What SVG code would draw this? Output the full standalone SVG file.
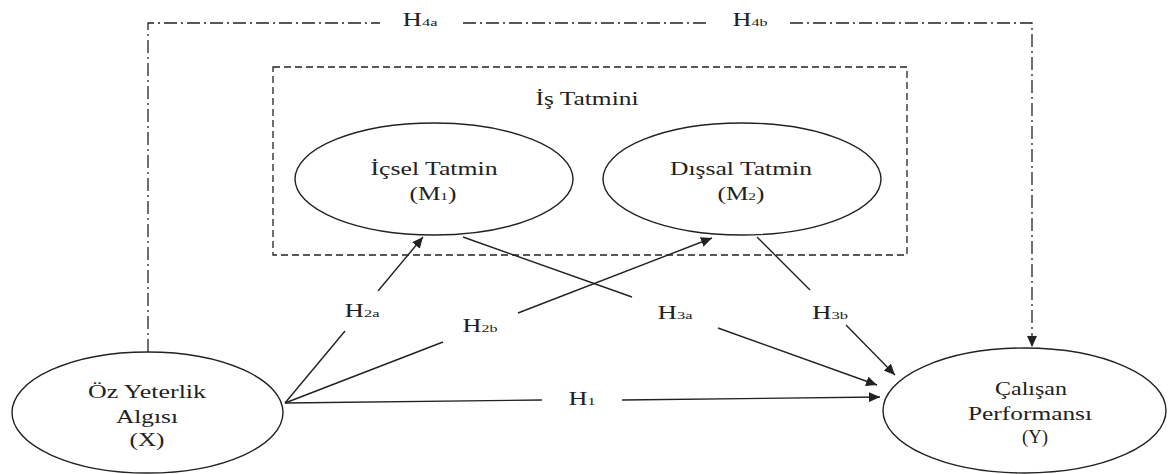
<svg xmlns="http://www.w3.org/2000/svg" width="1170" height="474" viewBox="0 0 1170 474">
<style>
.n{fill:#fff;stroke:#222;stroke-width:1.4}
.t{font-family:"Liberation Serif","Times New Roman",serif;font-size:18px;fill:#222;text-anchor:middle}
.s{font-size:11px}
.c{fill:none;stroke:#222;stroke-width:1.4}
.dd{fill:none;stroke:#222;stroke-width:1.3;stroke-dasharray:13 4 2 4}
.box{fill:none;stroke:#222;stroke-width:1.3;stroke-dasharray:7 4}
</style>
<defs>
<marker id="ah" markerUnits="userSpaceOnUse" markerWidth="12" markerHeight="10" refX="11" refY="5" orient="auto">
<path d="M0,0 L11,5 L0,10 z" fill="#222"/>
</marker>
</defs>
<rect width="1170" height="474" fill="#fff"/>
<g id="group-is-tatmini">
<rect class="box" x="273" y="67" width="634" height="188"/>
<text class="t" x="587" y="105" textLength="103" lengthAdjust="spacingAndGlyphs">İş Tatmini</text>
</g>
<g id="connectors">
<polyline class="dd" points="148,352 148,23 380,23"/>
<line class="dd" x1="463" y1="23" x2="707" y2="23"/>
<polyline class="dd" points="790,23 1032,23 1032,347" marker-end="url(#ah)"/>
<text class="t" x="420" y="26" textLength="35" lengthAdjust="spacingAndGlyphs">H<tspan class="s">4a</tspan></text>
<text class="t" x="750" y="26" textLength="35" lengthAdjust="spacingAndGlyphs">H<tspan class="s">4b</tspan></text>
<line class="c" x1="285" y1="403" x2="345" y2="331"/>
<line class="c" x1="378" y1="291" x2="423" y2="237" marker-end="url(#ah)"/>
<text class="t" x="362" y="317" textLength="35" lengthAdjust="spacingAndGlyphs">H<tspan class="s">2a</tspan></text>
<line class="c" x1="285" y1="403" x2="443" y2="342"/>
<line class="c" x1="518" y1="313" x2="712" y2="238" marker-end="url(#ah)"/>
<text class="t" x="480" y="332" textLength="35" lengthAdjust="spacingAndGlyphs">H<tspan class="s">2b</tspan></text>
<line class="c" x1="463" y1="237" x2="632" y2="297"/>
<line class="c" x1="718" y1="328" x2="877" y2="385" marker-end="url(#ah)"/>
<text class="t" x="675" y="319" textLength="35" lengthAdjust="spacingAndGlyphs">H<tspan class="s">3a</tspan></text>
<line class="c" x1="757" y1="237" x2="810" y2="290"/>
<line class="c" x1="846" y1="325" x2="895" y2="375" marker-end="url(#ah)"/>
<text class="t" x="830" y="319" textLength="36" lengthAdjust="spacingAndGlyphs">H<tspan class="s">3b</tspan></text>
<line class="c" x1="285" y1="403" x2="542" y2="400"/>
<line class="c" x1="622" y1="400" x2="880" y2="397" marker-end="url(#ah)"/>
<text class="t" x="582" y="405" textLength="27" lengthAdjust="spacingAndGlyphs">H<tspan class="s">1</tspan></text>
</g>
<g id="node-x">
<ellipse class="n" cx="147.5" cy="412.5" rx="135.5" ry="60.5"/>
<text class="t" x="147" y="398" textLength="118" lengthAdjust="spacingAndGlyphs">Öz Yeterlik</text>
<text class="t" x="147" y="423" textLength="62" lengthAdjust="spacingAndGlyphs">Algısı</text>
<text class="t" x="147" y="446" textLength="35" lengthAdjust="spacingAndGlyphs">(X)</text>
</g>
<g id="node-m1">
<ellipse class="n" cx="434" cy="179" rx="139" ry="56"/>
<text class="t" x="434" y="175" textLength="127" lengthAdjust="spacingAndGlyphs">İçsel Tatmin</text>
<text class="t" x="433" y="200" textLength="47" lengthAdjust="spacingAndGlyphs">(M<tspan class="s">1</tspan>)</text>
</g>
<g id="node-m2">
<ellipse class="n" cx="742" cy="179" rx="139" ry="56"/>
<text class="t" x="741" y="175" textLength="142" lengthAdjust="spacingAndGlyphs">Dışsal Tatmin</text>
<text class="t" x="741" y="200" textLength="47" lengthAdjust="spacingAndGlyphs">(M<tspan class="s">2</tspan>)</text>
</g>
<g id="node-y">
<ellipse class="n" cx="1024.5" cy="410.5" rx="141.5" ry="62.5"/>
<text class="t" x="1031" y="395" textLength="72" lengthAdjust="spacingAndGlyphs">Çalışan</text>
<text class="t" x="1030" y="420" textLength="124" lengthAdjust="spacingAndGlyphs">Performansı</text>
<text class="t" x="1035" y="443" textLength="26" lengthAdjust="spacingAndGlyphs">(Y)</text>
</g>
</svg>
